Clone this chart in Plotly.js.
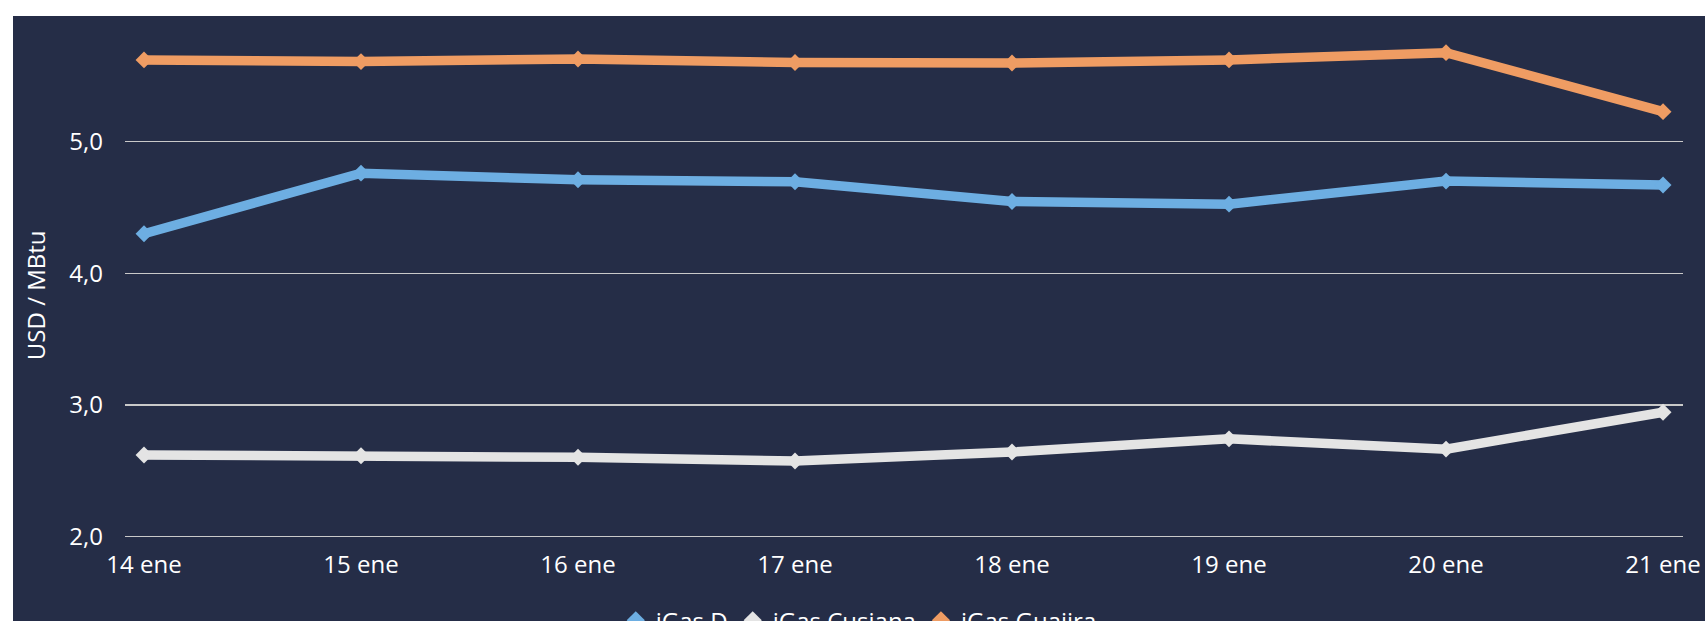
<!DOCTYPE html>
<html>
<head>
<meta charset="utf-8">
<script src="https://cdn.plot.ly/plotly-3.0.1.min.js"></script>
<style>
  html, body { margin: 0; padding: 0; background: #ffffff; overflow: hidden; }
  #chart { position: absolute; left: 13px; top: 16px; width: 1692px; height: 660px; }
</style>
</head>
<body>
<div id="chart"></div>
<script>
// Categories (x axis tick labels)
const categories = ['14 ene', '15 ene', '16 ene', '17 ene', '18 ene', '19 ene', '20 ene', '21 ene'];

// Series values (USD / MBtu)
const iGasD       = [4.30, 4.76, 4.71, 4.695, 4.545, 4.525, 4.70, 4.67];
const iGasCusiana = [2.62, 2.615, 2.603, 2.575, 2.643, 2.743, 2.665, 2.945];
const iGasGuajira = [5.62, 5.607, 5.627, 5.60, 5.596, 5.62, 5.675, 5.227];

// Series names and colours
const seriesNames = ['iGas D', 'iGas Cusiana', 'iGas Guajira'];
const seriesColors = ['#6DAEE2', '#E4E4E4', '#EF9C63'];
const seriesValues = [iGasD, iGasCusiana, iGasGuajira];

// y tick values / labels
const yTickVals = [2, 3, 4, 5];
const yTickText = ['2,0', '3,0', '4,0', '5,0'];

const fontFamily = '"Open Sans", "Noto Sans", "DejaVu Sans", sans-serif';
const fontSize = 24;
const bg = '#252D47';

const traces = [];
seriesValues.forEach((vals, i) => {
  traces.push({
    type: 'scatter',
    mode: 'lines+markers',
    x: categories,
    y: vals,
    name: seriesNames[i],
    showlegend: false,
    cliponaxis: false,
    line: { color: seriesColors[i], width: 9.5 },
    marker: { symbol: 'diamond', size: 13, color: seriesColors[i] }
  });
});
// legend entries (marker only)
seriesValues.forEach((vals, i) => {
  traces.push({
    type: 'scatter',
    mode: 'markers',
    x: [null],
    y: [null],
    name: seriesNames[i],
    showlegend: true,
    marker: { symbol: 'diamond', size: 14, color: seriesColors[i] }
  });
});

const layout = {
  width: 1692,
  height: 660,
  paper_bgcolor: bg,
  plot_bgcolor: bg,
  margin: { l: 112, r: 22, t: 14, b: 136 },
  font: { family: fontFamily, color: '#FFFFFF', size: fontSize },
  showlegend: true,
  legend: {
    orientation: 'h',
    x: 0.315,
    xanchor: 'left',
    y: -0.114,
    yanchor: 'top',
    font: { family: fontFamily, color: '#FFFFFF', size: fontSize },
    itemwidth: 30,
    bgcolor: 'rgba(0,0,0,0)',
    tracegroupgap: 0
  },
  xaxis: {
    type: 'category',
    range: [-0.0876, 7.092],
    showgrid: false,
    zeroline: false,
    showline: false,
    ticks: '',
    ticklabelstandoff: 8,
    tickfont: { family: fontFamily, color: '#FFFFFF', size: fontSize },
    fixedrange: true
  },
  yaxis: {
    range: [1.975, 5.847],
    tickvals: yTickVals,
    ticktext: yTickText,
    showgrid: true,
    gridcolor: '#C9C9C9',
    gridwidth: 1.5,
    zeroline: false,
    showline: false,
    ticks: '',
    ticklabelstandoff: 21,
    tickfont: { family: fontFamily, color: '#FFFFFF', size: fontSize },
    fixedrange: true
  },
  annotations: [{
    text: 'USD / MBtu',
    xref: 'paper', yref: 'paper',
    x: -0.0578, y: 0.48,
    xanchor: 'center', yanchor: 'middle',
    textangle: -90,
    showarrow: false,
    font: { family: fontFamily, color: '#FFFFFF', size: fontSize }
  }]
};

Plotly.newPlot('chart', traces, layout, { displayModeBar: false, staticPlot: true });
</script>
</body>
</html>
